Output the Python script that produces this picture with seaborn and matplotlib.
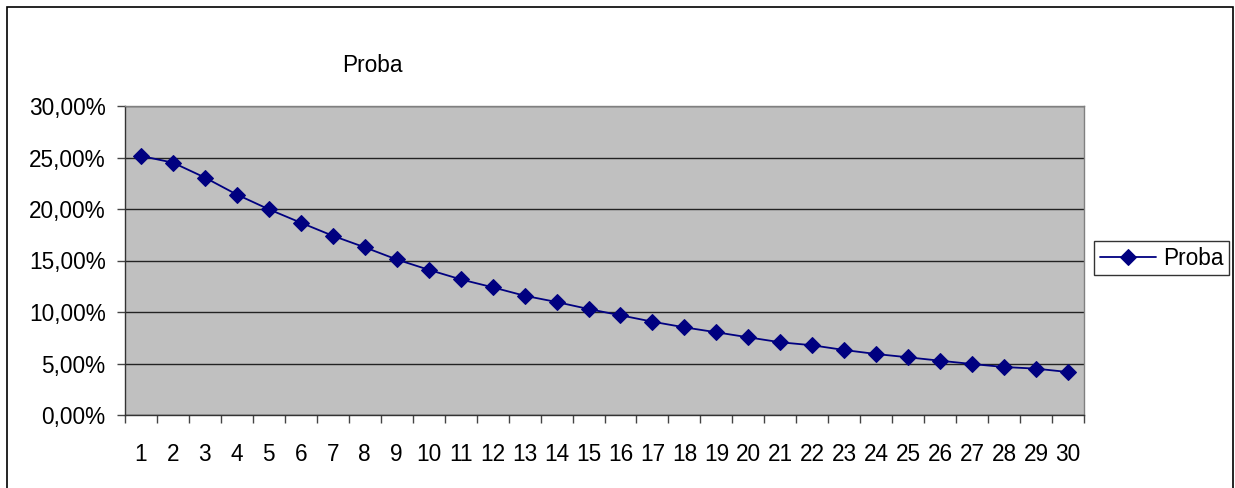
import matplotlib
matplotlib.use("Agg")
import matplotlib.pyplot as plt
import matplotlib.ticker as mticker
from matplotlib.patches import Rectangle
import seaborn as sns
import pandas as pd
import numpy as np

# data (in %)
tirages = list(range(1, 31))
proba = [25.15, 24.5, 23.05, 21.4, 19.97, 18.67, 17.4, 16.28, 15.1, 14.1,
         13.17, 12.4, 11.58, 10.97, 10.29, 9.68, 9.06, 8.51, 8.03, 7.54,
         7.06, 6.77, 6.31, 5.92, 5.6, 5.27, 4.95, 4.66, 4.5, 4.17]
y_ticks = [0, 5, 10, 15, 20, 25, 30]

df = pd.DataFrame({"x": tirages, "Proba": proba})

sns.set_style("white")
plt.rcParams['font.family'] = ['Liberation Sans', 'DejaVu Sans']
plt.rcParams['text.color'] = 'black'
plt.rcParams['xtick.labelcolor'] = 'black'
plt.rcParams['ytick.labelcolor'] = 'black'

fs = 16.3

fig = plt.figure(figsize=(12.35, 4.88), dpi=100)
ax = fig.add_axes([125/1235, 73/488, 959/1235, 309/488])
ax.set_facecolor("#C0C0C0")

sns.lineplot(data=df, x="x", y="Proba", ax=ax, color="#000080", marker="D",
             markersize=8, markeredgecolor="#000080", linewidth=1.3, label="Proba",
             legend=False)

ax.set_xlim(0.5, 30.5)
ax.set_ylim(0, 30)
ax.set_yticks(y_ticks)
ax.yaxis.set_major_formatter(mticker.FuncFormatter(lambda v, p: f"{v:.2f}".replace(".", ",") + "%"))
ax.set_xticks(tirages)
ax.set_xticks(np.arange(0.5, 31, 1), minor=True)
ax.tick_params(axis="x", which="major", length=0, pad=20, labelsize=fs, labelcolor="black")
ax.tick_params(axis="x", which="minor", length=6, width=1, color="#444444", direction="out")
ax.tick_params(axis="y", length=6, width=1, color="#444444", pad=8, labelsize=fs,
               labelcolor="black", direction="out")
ax.xaxis.set_ticks_position("bottom")
ax.yaxis.set_ticks_position("left")
ax.grid(axis="y", color="#222222", linewidth=1)
ax.grid(axis="x", visible=False)
ax.set_axisbelow(True)
ax.set_xlabel("")
ax.set_ylabel("")
for s in ["left", "bottom"]:
    ax.spines[s].set_color("#333333")
    ax.spines[s].set_linewidth(1)
for s in ["top", "right"]:
    ax.spines[s].set_color("#808080")
    ax.spines[s].set_linewidth(1)

fig.text(372/1235, (488-65)/488, "Proba", ha="center", va="center", fontsize=fs, color="black")

handles, labels = ax.get_legend_handles_labels()
leg = fig.legend(handles, labels, loc="upper left", bbox_to_anchor=(1094/1235, (488-241)/488),
                 frameon=True, fancybox=False, edgecolor="black", fontsize=fs,
                 borderpad=0.25, handlelength=2.5, handletextpad=0.3, borderaxespad=0)
leg.get_frame().set_linewidth(1)
for t in leg.get_texts():
    t.set_color("black")

# outer chart border
fig.patches.append(Rectangle((7/1235, -0.02), 1226/1235, 1.02 - 7/488, transform=fig.transFigure,
                             fill=False, edgecolor="black", linewidth=1.2))

fig.savefig("out.png", dpi=100)
